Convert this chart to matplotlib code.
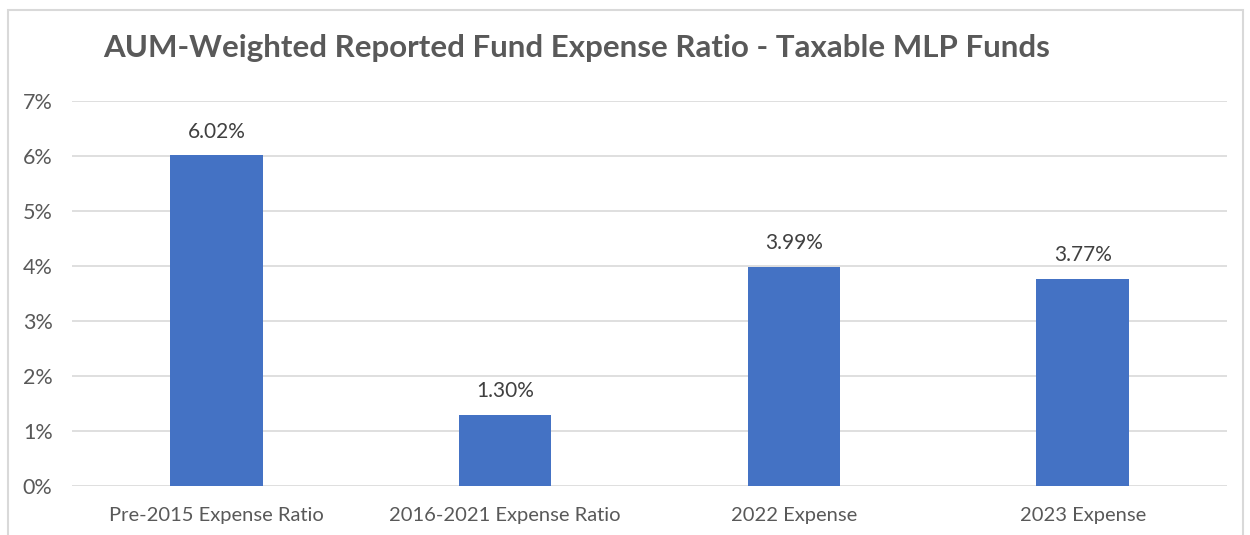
import matplotlib
matplotlib.use("Agg")
import matplotlib.pyplot as plt
from matplotlib.patches import Rectangle

categories = ["Pre-2015 Expense Ratio", "2016-2021 Expense Ratio", "2022 Expense", "2023 Expense"]
values = [6.02, 1.30, 3.99, 3.77]
yticks = [0, 1, 2, 3, 4, 5, 6, 7]
title = "AUM-Weighted Reported Fund Expense Ratio - Taxable MLP Funds"

plt.rcParams['font.family'] = ['Lato', 'DejaVu Sans']

fig = plt.figure(figsize=(12.5, 5.35), dpi=100)
ax = fig.add_axes([72/1250, 1-486/535, 1155/1250, (486-101)/535])

x = list(range(len(categories)))
bars = ax.bar(x, values, width=0.32, color="#4472C4", zorder=3)
for xi, v in zip(x, values):
    ax.text(xi, v + 0.24, f"{v:.2f}%", ha="center", va="bottom", fontsize=15, color="#404040")

ax.set_xlim(-0.5, len(categories) - 0.5)
ax.set_ylim(0, 7)
ax.set_yticks(yticks)
ax.set_yticklabels([f"{t}%" for t in yticks], fontsize=15.5, color="#595959")
ax.set_xticks(x)
ax.set_xticklabels(categories, fontsize=14.5, color="#595959")
ax.tick_params(axis="both", length=0)
ax.tick_params(axis="y", pad=14)
ax.tick_params(axis="x", pad=15)
ax.grid(axis="y", color="#D9D9D9", linewidth=1.2, zorder=0)
for s in ax.spines.values():
    s.set_visible(False)

fig.text(103/1250, 1-48/535, title, fontsize=22.5, fontweight="bold", color="#595959", ha="left", va="center")

fig.patches.append(Rectangle((8/1250, -0.05), (1243-8)/1250, 1.05 - 10/535, transform=fig.transFigure,
                             fill=False, edgecolor="#D9D9D9", linewidth=1.5))

fig.savefig("out.png", dpi=100)
